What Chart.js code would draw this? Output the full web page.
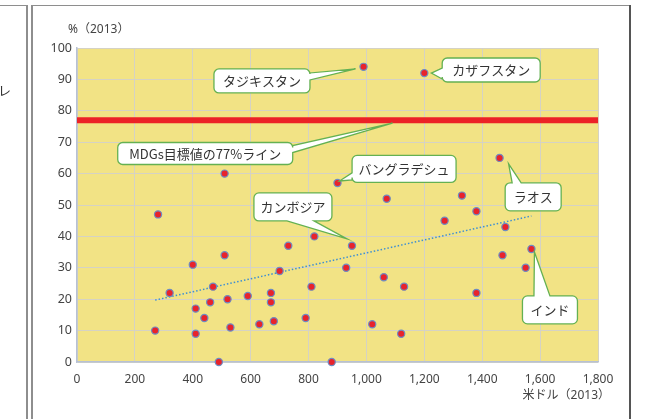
<!DOCTYPE html>
<html>
<head>
<meta charset="utf-8">
<script src="https://cdn.jsdelivr.net/npm/chart.js@4/dist/chart.umd.min.js"></script>
<style>
  html, body { margin: 0; padding: 0; background: #fff; width: 647px; height: 419px; overflow: hidden; }
  #wrap { position: relative; width: 647px; height: 419px; }
  #c { position: absolute; left: 0; top: 0; }
  .ln { position: absolute; background: #8e8e8e; }
  #edge { position: absolute; left: -2px; top: 80px; font: 13px 'Noto Sans CJK JP', sans-serif; color: #333; }
</style>
</head>
<body>
<div id="wrap">
  <canvas id="c" width="647" height="419"></canvas>
  <div class="ln" style="left:0;top:5px;width:27px;height:1px"></div>
  <div class="ln" style="left:26px;top:5px;width:2px;height:414px"></div>
  <div class="ln" style="left:31px;top:5px;width:2px;height:414px"></div>
  <div class="ln" style="left:31px;top:5px;width:599px;height:1px"></div>
  <div class="ln" style="left:629px;top:5px;width:2px;height:414px;background:#555"></div>
  <div id="edge">レ</div>
</div>
<script>
// Per-capita income (US$, 2013) and rate (%, 2013) for each country
const incomeUSD = [270, 280, 320, 400, 410, 410, 440, 460, 470, 490, 510, 510, 520, 530, 590,
                   630, 670, 670, 680, 700, 730, 790, 810, 820, 880, 900, 930, 950, 990, 1020,
                   1060, 1070, 1120, 1130, 1200, 1270, 1330, 1380, 1380, 1460, 1470, 1480, 1550, 1570];
const ratePct   = [10, 47, 22, 31, 17, 9, 14, 19, 24, 0, 60, 34, 20, 11, 21,
                   12, 22, 19, 13, 29, 37, 14, 24, 40, 0, 57, 30, 37, 94, 12,
                   27, 52, 9, 24, 92, 45, 53, 48, 22, 65, 34, 43, 30, 36];
const countryNames = { 25: 'バングラデシュ', 27: 'カンボジア', 28: 'タジキスタン', 34: 'カザフスタン', 39: 'ラオス', 43: 'インド' };

// MDGs target line
const targetX = [0, 1800];
const targetPct = [77, 77];
const targetLabel = 'MDGs目標値の77%ライン';

// Linear trend (dotted)
const trendX = [270, 1570];
const trendY = [19.7, 46.5];

const xTicks = [0, 200, 400, 600, 800, 1000, 1200, 1400, 1600, 1800];
const yTicks = [0, 10, 20, 30, 40, 50, 60, 70, 80, 90, 100];

const FONT = "'Noto Sans', 'Noto Sans CJK JP', sans-serif";
const JFONT = "'Noto Sans CJK JP', sans-serif";

// Callout layout: box centre in data units, size in px, pointer side and base offsets
const callouts = [
  { point: 28, text: countryNames[28], cx: 639,  cy: 89.5, w: 96,  h: 24, side: 'right',  base: [-8, -1], tip: [-8, 2] },
  { point: 34, text: countryNames[34], cx: 1431, cy: 93.0, w: 98,  h: 24, side: 'left',   base: [-2, 9],  tip: [7, 0] },
  { line: true, text: targetLabel,     cx: 443,  cy: 66.4, w: 175, h: 22, side: 'right',  base: [-8, -1], at: 1090, tip: [0, 3] },
  { point: 25, text: countryNames[25], cx: 1130, cy: 61.5, w: 104, h: 27, side: 'left',   base: [4, 11],  tip: [2, -2] },
  { point: 27, text: countryNames[27], cx: 746,  cy: 49.4, w: 78,  h: 28, side: 'bottom', base: [-6, 21], tip: [-5, -7] },
  { point: 39, text: countryNames[39], cx: 1576, cy: 52.6, w: 56,  h: 28, side: 'top',    base: [-21, -12], tip: [9, 6] },
  { point: 43, text: countryNames[43], cx: 1634, cy: 16.6, w: 55,  h: 28, side: 'top',    base: [-16, 0], tip: [3, 3] }
];

function calloutPath(ctx, L, T, R, B, r, side, b1, b2, tx, ty) {
  ctx.beginPath();
  ctx.moveTo(L + r, T);
  if (side === 'top') { ctx.lineTo(b1, T); ctx.lineTo(tx, ty); ctx.lineTo(b2, T); }
  ctx.lineTo(R - r, T); ctx.arcTo(R, T, R, T + r, r);
  if (side === 'right') { ctx.lineTo(R, b1); ctx.lineTo(tx, ty); ctx.lineTo(R, b2); }
  ctx.lineTo(R, B - r); ctx.arcTo(R, B, R - r, B, r);
  if (side === 'bottom') { ctx.lineTo(b2, B); ctx.lineTo(tx, ty); ctx.lineTo(b1, B); }
  ctx.lineTo(L + r, B); ctx.arcTo(L, B, L, B - r, r);
  if (side === 'left') { ctx.lineTo(L, b2); ctx.lineTo(tx, ty); ctx.lineTo(L, b1); }
  ctx.lineTo(L, T + r); ctx.arcTo(L, T, L + r, T, r);
  ctx.closePath();
}

const plotBackground = {
  id: 'plotBackground',
  beforeDraw(chart) {
    const { ctx, chartArea: a } = chart;
    ctx.save();
    ctx.fillStyle = '#F2E385';
    ctx.fillRect(a.left, a.top, a.right - a.left, a.bottom - a.top);
    ctx.restore();
  }
};

const calloutPlugin = {
  id: 'callouts',
  afterDatasetsDraw(chart) {
    const { ctx, scales: { x, y } } = chart;
    ctx.save();
    callouts.forEach(c => {
      const bx = x.getPixelForValue(c.cx), by = y.getPixelForValue(c.cy);
      const L = bx - c.w / 2, R = bx + c.w / 2, T = by - c.h / 2, B = by + c.h / 2;
      let px, py;
      if (c.line) {
        px = x.getPixelForValue(c.at);
        py = y.getPixelForValue(targetPct[0]);
      } else {
        px = x.getPixelForValue(incomeUSD[c.point]);
        py = y.getPixelForValue(ratePct[c.point]);
      }
      const tx = px + c.tip[0], ty = py + c.tip[1];
      const centre = (c.side === 'top' || c.side === 'bottom') ? bx : by;
      calloutPath(ctx, L, T, R, B, 5, c.side, centre + c.base[0], centre + c.base[1], tx, ty);
      ctx.fillStyle = '#ffffff';
      ctx.fill();
      ctx.lineWidth = 1.3;
      ctx.strokeStyle = '#64B152';
      ctx.lineJoin = 'miter';
      ctx.stroke();
      ctx.fillStyle = '#333333';
      ctx.font = '13px ' + JFONT;
      ctx.textAlign = 'center';
      ctx.textBaseline = 'middle';
      ctx.fillText(c.text, bx, by + 0.5);
    });
    ctx.restore();
  },
  afterDraw(chart) {
    const { ctx, chartArea: a } = chart;
    ctx.save();
    ctx.fillStyle = '#444444';
    ctx.font = '12px ' + FONT;
    ctx.textBaseline = 'middle';
    ctx.textAlign = 'left';
    ctx.fillText('%（2013）', a.left - 9, a.top - 18);
    ctx.textAlign = 'right';
    ctx.fillText('米ドル（2013）', a.right + 12, a.bottom + 34);
    ctx.restore();
  }
};

new Chart(document.getElementById('c'), {
  type: 'scatter',
  data: {
    datasets: [
      {
        label: 'countries',
        data: incomeUSD.map((v, i) => ({ x: v, y: ratePct[i] })),
        pointRadius: 3.6,
        pointBackgroundColor: '#E8232B',
        pointBorderColor: '#6D8DC4',
        pointBorderWidth: 1.2,
        clip: false
      },
      {
        type: 'line',
        label: 'trend',
        data: trendX.map((v, i) => ({ x: v, y: trendY[i] })),
        borderColor: '#3E8FD2',
        borderWidth: 1.5,
        borderDash: [1.5, 2],
        pointRadius: 0,
        fill: false
      },
      {
        type: 'line',
        label: targetLabel,
        data: targetX.map((v, i) => ({ x: v, y: targetPct[i] })),
        borderColor: '#EC2227',
        borderWidth: 6,
        borderCapStyle: 'butt',
        pointRadius: 0,
        fill: false,
        clip: false
      }
    ]
  },
  options: {
    responsive: false,
    animation: false,
    devicePixelRatio: 1,
    layout: { padding: { top: 48, right: 49, bottom: 0, left: 0 } },
    plugins: { legend: { display: false }, tooltip: { enabled: false } },
    scales: {
      x: {
        type: 'linear',
        min: 0, max: 1800,
        afterFit(scale) { scale.height = 57; },
        afterBuildTicks(scale) { scale.ticks = xTicks.map(v => ({ value: v })); },
        ticks: {
          padding: 10,
          color: '#444444',
          font: { family: FONT, size: 12 },
          callback: v => v.toLocaleString('en-US')
        },
        grid: { color: '#D5D2C4', lineWidth: 1, drawTicks: false },
        border: { color: '#B7C1D4', width: 1.5 }
      },
      y: {
        type: 'linear',
        min: 0, max: 100,
        afterFit(scale) { scale.width = 77; },
        afterBuildTicks(scale) { scale.ticks = yTicks.map(v => ({ value: v })); },
        ticks: {
          padding: 5,
          color: '#444444',
          font: { family: FONT, size: 12.5 }
        },
        grid: { color: '#D5D2C4', lineWidth: 1, drawTicks: false },
        border: { color: '#B7C1D4', width: 1.5 }
      }
    }
  },
  plugins: [plotBackground, calloutPlugin]
});
</script>
</body>
</html>
